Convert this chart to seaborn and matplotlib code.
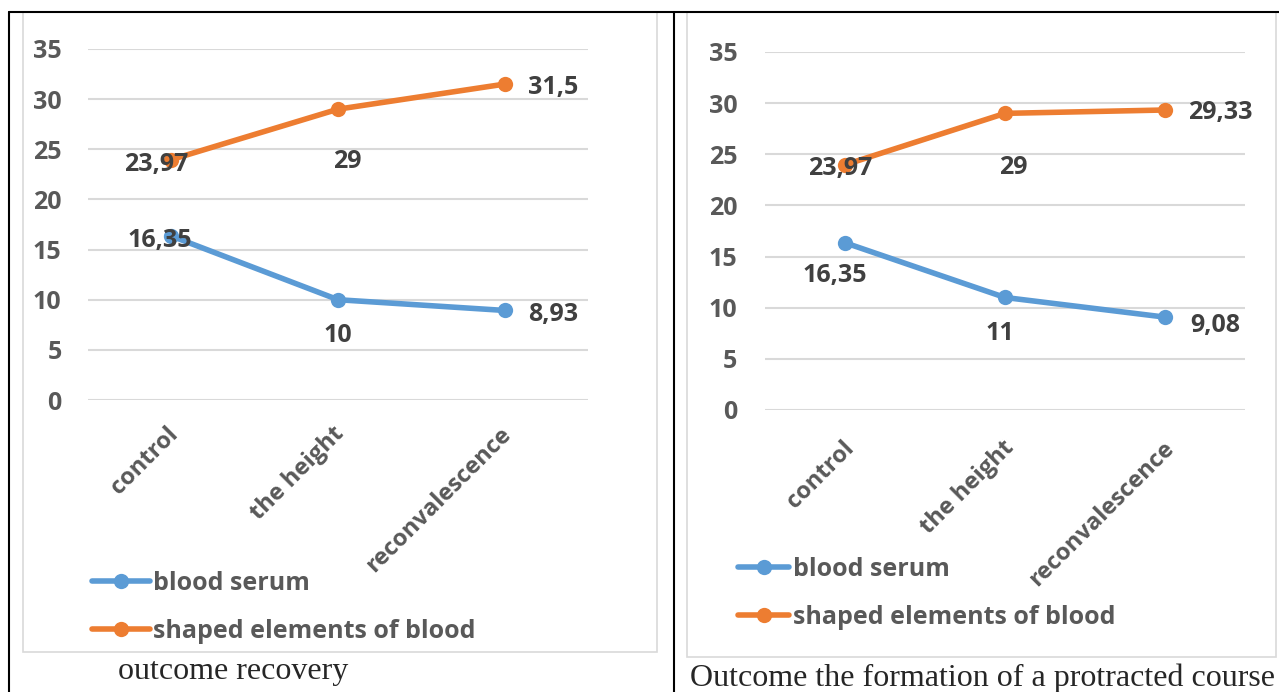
import seaborn as sns
import matplotlib.pyplot as plt
import pandas as pd
from matplotlib.patches import Rectangle
from matplotlib.lines import Line2D
from matplotlib.transforms import ScaledTranslation

sns.set_style('white')
plt.rcParams['font.family'] = ['Open Sans', 'DejaVu Sans']

# ---------- data ----------
categories = ['control', 'the height', 'reconvalescence']
series_names = ['blood serum', 'shaped elements of blood']

# left chart: outcome recovery
recovery_serum = [16.35, 10, 8.93]
recovery_shaped = [23.97, 29, 31.5]

# right chart: protracted course
protracted_serum = [16.35, 11, 9.08]
protracted_shaped = [23.97, 29, 29.33]

captions = ['outcome recovery', 'Outcome the formation of a protracted course']
yticks = [0, 5, 10, 15, 20, 25, 30, 35]

W, H = 1279, 692
colors = ['#5B9BD5', '#ED7D31']
grid_c = '#D9D9D9'
tick_c = '#595959'
label_c = '#404040'


def to_df(serum, shaped):
    rows = []
    for name, vals in zip(series_names, [serum, shaped]):
        for c, v in zip(categories, vals):
            rows.append({'stage': c, 'value': v, 'series': name})
    return pd.DataFrame(rows)


def fmt(v):
    return f'{v:g}'.replace('.', ',')


def px_rect(x0, y0, x1, y1):
    return [x0 / W, 1 - y1 / H, (x1 - x0) / W, (y1 - y0) / H]


fig = plt.figure(figsize=(W / 100, H / 100), dpi=100)


def draw_panel(df, box, offsets, ypad, xpad, xshift, legend_xy, handle_len):
    ax = fig.add_axes(px_rect(*box))
    sns.lineplot(data=df, x='stage', y='value', hue='series', palette=colors,
                 marker='o', markersize=11, markeredgewidth=0, linewidth=4,
                 sort=False, legend=False, ax=ax, clip_on=False)
    ax.set_xlim(-0.5, 2.5)
    ax.set_ylim(0, 35)
    ax.set_yticks(yticks)
    ax.yaxis.grid(True, color=grid_c, lw=1.5)
    ax.set_axisbelow(True)
    for s in ax.spines.values():
        s.set_visible(False)
    ax.set_xlabel('')
    ax.set_ylabel('')
    ax.tick_params(axis='y', length=0, pad=ypad, labelsize=18, labelcolor=tick_c)
    ax.tick_params(axis='x', length=0, pad=xpad, labelsize=17, labelcolor=tick_c)
    for t in ax.get_yticklabels() + ax.get_xticklabels():
        t.set_fontweight('bold')
    shift = ScaledTranslation(xshift / 100, 0, fig.dpi_scale_trans)
    for t in ax.get_xticklabels():
        t.set_rotation(45)
        t.set_ha('right')
        t.set_va('center')
        t.set_rotation_mode('anchor')
        t.set_transform(t.get_transform() + shift)

    # data labels
    k = 0
    for name in series_names:
        sub = df[df['series'] == name]
        for i, v in enumerate(sub['value']):
            dx, dy, ha = offsets[k]
            ax.annotate(fmt(v), (i, v), xytext=(dx, dy - 3), textcoords='offset pixels',
                        ha=ha, va='center', fontsize=18, fontweight='bold',
                        color=label_c, annotation_clip=False)
            k += 1

    handles = [Line2D([], [], color=c, lw=4, marker='o', markersize=11,
                      markeredgewidth=0) for c in colors]
    leg = ax.legend(handles, series_names, loc='center left',
                    bbox_to_anchor=(legend_xy[0] / W, 1 - legend_xy[1] / H),
                    bbox_transform=fig.transFigure, frameon=False, fontsize=18,
                    handlelength=handle_len, handletextpad=0.15, labelspacing=0.92,
                    borderpad=0, borderaxespad=0)
    for t in leg.get_texts():
        t.set_color(tick_c)
        t.set_fontweight('bold')
    return ax


# left panel
draw_panel(to_df(recovery_serum, recovery_shaped), (88, 49, 588, 400),
           [(-12, -1, 'center'), (0, -33, 'center'), (23, -1, 'left'),
            (-15, -2, 'center'), (9, -49, 'center'), (23, 0, 'left')],
           ypad=19, xpad=22, xshift=3, legend_xy=(92, 607), handle_len=2.3)

# right panel
draw_panel(to_df(protracted_serum, protracted_shaped), (765, 52, 1245, 410),
           [(-10, -30, 'center'), (-5, -33, 'center'), (25, -5, 'left'),
            (-5, -1, 'center'), (8, -51, 'center'), (23, 0, 'left')],
           ypad=20, xpad=25, xshift=6, legend_xy=(738, 593), handle_len=2.05)

# chart frames (light grey) and table borders (black)
for x0, y0, x1, y1 in [(23, 12, 657, 652), (687, 12, 1276, 657)]:
    fig.add_artist(Rectangle((x0 / W, 1 - y1 / H), (x1 - x0) / W, (y1 - y0) / H,
                             transform=fig.transFigure, fill=False,
                             edgecolor=grid_c, lw=1.2))
fig.add_artist(Line2D([9 / W, 1], [1 - 12 / H, 1 - 12 / H], color='black', lw=1.5,
                      transform=fig.transFigure))
for x in [9, 674]:
    fig.add_artist(Line2D([x / W, x / W], [0, 1 - 12 / H], color='black', lw=1.5,
                          transform=fig.transFigure))

# captions under the charts
fig.text(118 / W, 1 - 672 / H, captions[0], family='Liberation Serif',
         fontsize=23, va='center', ha='left')
fig.text(690 / W, 1 - 678 / H, captions[1], family='Liberation Serif',
         fontsize=23, va='center', ha='left')

fig.savefig('out.png', dpi=100)
